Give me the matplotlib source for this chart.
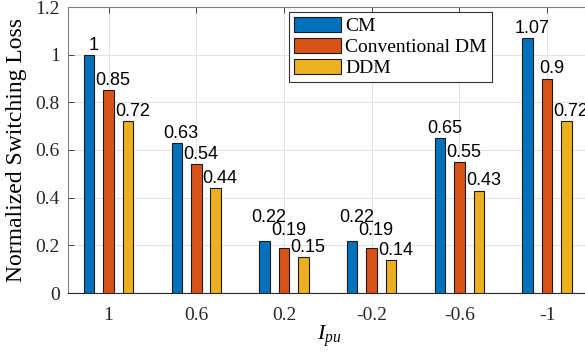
import matplotlib
matplotlib.use("Agg")
import matplotlib.pyplot as plt
import numpy as np

categories = ["1", "0.6", "0.2", "-0.2", "-0.6", "-1"]
series_names = ["CM", "Conventional DM", "DDM"]
cm = [1.00, 0.63, 0.22, 0.22, 0.65, 1.07]
conv_dm = [0.85, 0.54, 0.19, 0.19, 0.55, 0.90]
ddm = [0.72, 0.44, 0.15, 0.14, 0.43, 0.72]
yticks = [0, 0.2, 0.4, 0.6, 0.8, 1.0, 1.2]
ytick_labels = ["0", "0.2", "0.4", "0.6", "0.8", "1", "1.2"]
bar_label_text = [
    ["1", "0.63", "0.22", "0.22", "0.65", "1.07"],
    ["0.85", "0.54", "0.19", "0.19", "0.55", "0.9"],
    ["0.72", "0.44", "0.15", "0.14", "0.43", "0.72"],
]
# extra vertical lift (points) of some labels to avoid overlaps, as in the source
label_lift = [
    [0, 0, 10, 10, 0, 0],
    [0, 0, 5.5, 5.5, 0, 0],
    [0, 0, 0, 0, 0, 0],
]

colors = ["#0072BD", "#D95319", "#EDB120"]

plt.rcParams["font.family"] = ["Liberation Serif", "DejaVu Serif"]
plt.rcParams["mathtext.fontset"] = "custom"
plt.rcParams["mathtext.rm"] = "Liberation Serif"
plt.rcParams["mathtext.it"] = "Liberation Serif:italic"

fig = plt.figure(figsize=(5.85, 3.58), dpi=100)
ax = fig.add_axes([68 / 585, 65 / 358, 523 / 585, 286 / 358])

x = np.arange(1, len(categories) + 1)
offset = 0.222
width = 0.12
series = [cm, conv_dm, ddm]
for i, (vals, name, col) in enumerate(zip(series, series_names, colors)):
    xs = x + (i - 1) * offset
    ax.bar(xs, vals, width=width, color=col, edgecolor="#1a1a1a",
           linewidth=0.8, label=name, zorder=3)
    for xi, v, t, lift in zip(xs, vals, bar_label_text[i], label_lift[i]):
        ax.annotate(t, (xi, v), xytext=(3.2, 0.8 + lift), textcoords="offset points",
                    ha="center", va="bottom", fontsize=13,
                    family="Liberation Sans", color="#000000", zorder=5)

ax.set_xlim(0.538, 6.5)
ax.set_ylim(0, 1.2)
ax.set_xticks(x)
ax.set_xticklabels(categories)
ax.set_yticks(yticks)
ax.set_yticklabels(ytick_labels)
ax.tick_params(direction="in", top=True, right=True, length=4, width=0.6,
               labelsize=14, colors="#262626")
ax.tick_params(axis="x", pad=10)
ax.tick_params(axis="y", pad=6)
ax.grid(True, color="#e3e3e3", linewidth=0.8, zorder=0)
ax.set_axisbelow(True)
for s in ax.spines.values():
    s.set_color("#808080")
    s.set_linewidth(0.8)
ax.spines["bottom"].set_color("#262626")

ax.set_xlabel(r"$I_{pu}$", fontsize=16, labelpad=0)
ax.set_ylabel("Normalized Switching Loss", fontsize=17, labelpad=6)

leg = ax.legend(loc="upper left", bbox_to_anchor=(0.4226, 0.9825),
                fontsize=14, handlelength=2.4, handleheight=0.8,
                handletextpad=0.25, labelspacing=0.15, borderpad=0.25,
                borderaxespad=0, fancybox=False, framealpha=1)
leg.get_frame().set_edgecolor("#333333")
leg.get_frame().set_linewidth(0.8)

fig.savefig("out.png", dpi=100)
